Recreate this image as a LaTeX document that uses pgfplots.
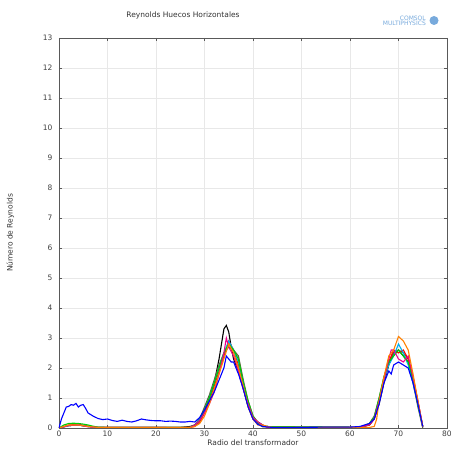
\documentclass[border=0pt]{standalone}
\usepackage{pgfplots}
\pgfplotsset{compat=1.18}
\usepackage{fontspec}
\setmainfont{DejaVu Sans}
\definecolor{cblue}{RGB}{0,0,255}
\definecolor{cgreen}{RGB}{0,205,0}
\definecolor{corange}{RGB}{255,128,0}
\definecolor{colive}{RGB}{90,100,60}
\definecolor{logoblue}{RGB}{120,170,220}
\begin{document}
\begin{tikzpicture}
\useasboundingbox (-59pt,-21pt) rectangle (393pt,428pt);
\begin{axis}[
  scale only axis,
  width=388pt, height=390pt,
  xmin=0, xmax=80, ymin=0, ymax=13,
  xtick={0,10,...,80}, ytick={0,1,...,13},
  tick align=inside,
  major tick length=3pt,
  tick style={gray!70!black},
  axis line style={gray!70!black, line width=0.8pt},
  grid=major,
  grid style={gray!18},
  tick label style={font=\fontsize{7.5}{8}\selectfont, text=black!75},
  xlabel={Radio del transformador},
  ylabel={Número de Reynolds},
  every axis x label/.style={at={(axis description cs:0.5,-0.038)}, anchor=center,
    font=\fontsize{7.5}{8}\selectfont, text=black!80},
  every axis y label/.style={at={(axis description cs:-0.125,0.5)}, rotate=90, anchor=center,
    font=\fontsize{7.5}{8}\selectfont, text=black!80},
  xticklabel style={yshift=1pt},
  yticklabel style={xshift=-3pt},
  /pgf/number format/assume math mode=true,
  every axis plot/.append style={line width=1.1pt},
]
% negro
\addplot[black] coordinates {
(0,0)(2,0.08)(4,0.1)(6,0.05)(8,0.02)(25,0.02)(27,0.05)(28,0.1)(29,0.3)(30,0.6)(31,1.0)(32,1.5)(33,2.3)(33.5,2.8)(34,3.3)(34.5,3.42)(35,3.2)(35.5,2.7)(36,2.3)(37,1.9)(38,1.3)(39,0.7)(40,0.3)(41,0.2)(42,0.1)(43,0.02)(62,0.02)(64,0.1)(65,0.3)(66,0.8)(67,1.5)(68,2.1)(69,2.5)(70,2.6)(70.5,2.5)(71,2.4)(72,2.2)(73,1.6)(74,0.8)(75,0.05)
};
% oliva
\addplot[colive] coordinates {
(0,0)(2,0.08)(4,0.1)(6,0.05)(8,0.02)(27,0.02)(28,0.1)(29,0.3)(30,0.7)(31,1.1)(32,1.6)(33,2.1)(34,2.5)(35,2.7)(36,2.6)(37,2.4)(38,1.6)(39,0.9)(40,0.4)(41,0.2)(42,0.05)(62,0.02)(64,0.15)(65,0.4)(66,1.0)(67,1.7)(68,2.2)(69,2.5)(70,2.6)(71,2.5)(72,2.3)(73,1.5)(74,0.7)(75,0.0)
};
% rojo
\addplot[red] coordinates {
(0,0)(2,0.1)(4,0.12)(6,0.06)(8,0.02)(27,0.02)(28,0.05)(29,0.2)(30,0.5)(31,0.9)(32,1.4)(33,1.9)(34,2.4)(35,2.9)(36,2.6)(37,2.1)(38,1.4)(39,0.8)(40,0.3)(41,0.15)(42,0.05)(62,0.02)(64,0.1)(65,0.3)(66,0.9)(67,1.6)(68,2.2)(69,2.6)(70,2.5)(71,2.6)(72,2.3)(73,1.7)(74,0.9)(75,0.05)
};
% cian
\addplot[cyan] coordinates {
(0,0)(2,0.08)(4,0.1)(6,0.05)(8,0.02)(27,0.02)(28,0.08)(29,0.3)(30,0.6)(31,1.0)(32,1.5)(33,2.0)(34,2.5)(35,2.9)(36,2.6)(37,2.2)(38,1.5)(39,0.8)(40,0.35)(41,0.15)(42,0.05)(62,0.02)(64,0.12)(65,0.35)(66,0.9)(67,1.6)(68,2.1)(69,2.4)(70,2.8)(71,2.5)(72,2.1)(73,1.5)(74,0.8)(75,0.05)
};
% verde
\addplot[cgreen] coordinates {
(0,0)(1,0.1)(2,0.15)(3,0.16)(4,0.15)(5,0.13)(6,0.1)(7,0.06)(8,0.03)(10,0.02)(27,0.02)(28,0.1)(29,0.25)(30,0.6)(31,1.0)(32,1.5)(33,2.0)(34,2.5)(35,2.8)(36,2.6)(37,2.3)(38,1.5)(39,0.9)(40,0.4)(41,0.15)(42,0.05)(62,0.02)(64,0.15)(65,0.35)(66,1.0)(67,1.7)(68,2.2)(69,2.4)(70,2.6)(71,2.4)(72,2.2)(73,1.6)(74,0.8)(75,0.05)
};
% magenta
\addplot[magenta] coordinates {
(0,0)(2,0.08)(4,0.1)(6,0.04)(8,0.02)(22,0.02)(23,-0.03)(25,-0.03)(26,0.02)(27,0.02)(28,0.1)(29,0.25)(30,0.5)(31,0.8)(32,1.2)(33,1.8)(34,2.5)(34.5,3.0)(35,2.7)(36,2.4)(37,1.9)(38,1.3)(39,0.8)(40,0.35)(41,0.2)(42,0.1)(43,0.02)(62,0.02)(64,0.12)(65,0.3)(66,0.9)(67,1.6)(68,2.3)(68.5,2.6)(69,2.6)(70,2.3)(71,2.2)(72,2.4)(73,1.7)(74,0.9)(75,0.05)
};
% naranja
\addplot[corange] coordinates {
(0,0)(2,0.1)(4,0.1)(6,0.05)(8,0.02)(27,0.02)(28,0.05)(29,0.15)(30,0.4)(31,0.8)(32,1.3)(33,1.8)(34,2.3)(35,2.8)(36,2.5)(37,2.0)(38,1.4)(39,0.7)(40,0.3)(41,0.1)(42,0.1)(43,0.05)(44,0.02)(64,0.02)(65,0.05)(65.5,0.3)(66,0.9)(67,1.7)(68,2.4)(69,2.6)(70,3.05)(71,2.9)(72,2.6)(73,1.8)(74,0.9)(75,0.05)
};
% azul
\addplot[cblue] coordinates {
(0,0)(0.5,0.3)(1,0.5)(1.5,0.7)(2,0.72)(2.5,0.78)(3,0.76)(3.5,0.82)(4,0.7)(4.5,0.76)(5,0.78)(5.5,0.65)(6,0.5)(7,0.4)(8,0.32)(9,0.28)(10,0.3)(11,0.25)(12,0.22)(13,0.26)(14,0.22)(15,0.2)(16,0.24)(17,0.3)(18,0.27)(19,0.25)(20,0.24)(21,0.24)(22,0.22)(23,0.23)(24,0.22)(25,0.2)(26,0.2)(27,0.22)(28,0.2)(29,0.35)(30,0.6)(31,0.9)(32,1.2)(33,1.6)(34,2.0)(34.5,2.4)(35,2.3)(35.5,2.2)(36,2.2)(37,1.8)(38,1.3)(39,0.7)(40,0.3)(41,0.12)(42,0.05)(44,0.02)(50,0.02)(55,0.03)(60,0.03)(62,0.05)(63,0.1)(64,0.15)(65,0.3)(66,0.8)(67,1.5)(68,1.9)(68.5,1.8)(69,2.1)(70,2.2)(71,2.1)(72,2.0)(73,1.5)(74,0.8)(75,0.05)
};
\end{axis}
% titulo y logotipo
\node[font=\fontsize{7.5}{8}\selectfont, text=black!80] at (124pt,413pt) {Reynolds Huecos Horizontales};
\node[font=\fontsize{6}{6}\selectfont, text=logoblue, anchor=east, align=right, inner sep=0pt] at (367pt,407pt) {COMSOL\\[-0.5pt]MULTIPHYSICS};
\fill[logoblue] (375pt,407.5pt) circle (4.5pt);
\end{tikzpicture}
\end{document}
